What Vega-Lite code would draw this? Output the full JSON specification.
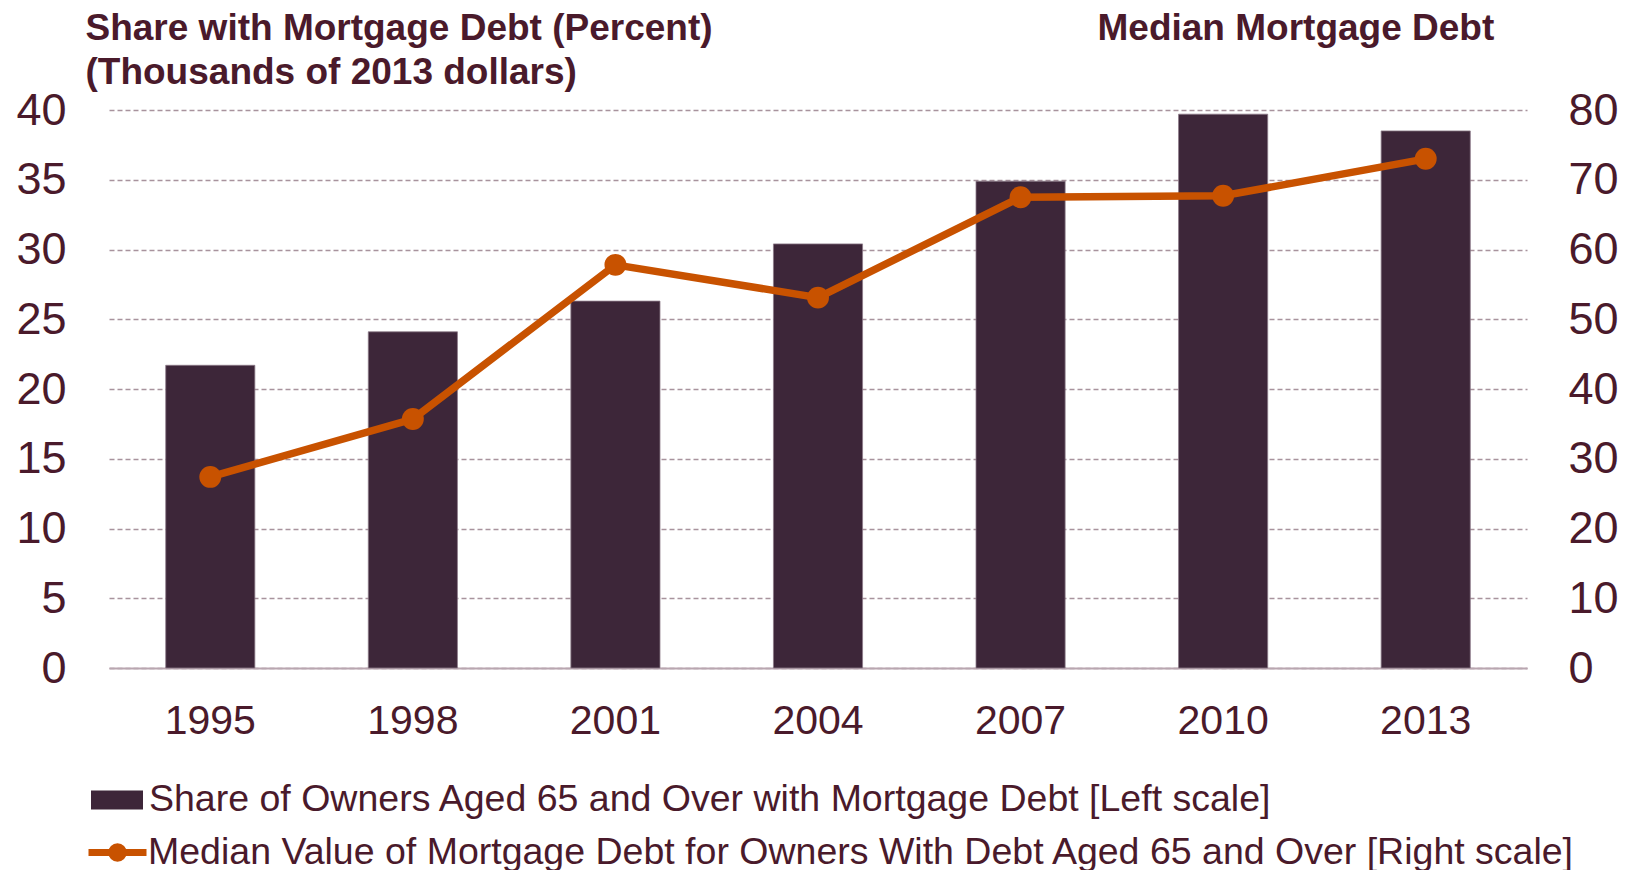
{
  "$schema": "https://vega.github.io/schema/vega-lite/v6.json",
  "width": 1418,
  "height": 558,
  "autosize": {"type": "none"},
  "padding": {"left": 109, "top": 110, "right": 99, "bottom": 202},
  "background": "white",
  "config": {
    "view": {"stroke": null},
    "font": "Liberation Sans",
    "axis": {"labelFont": "Liberation Sans", "titleFont": "Liberation Sans", "labelColor": "#4A1A2B", "titleColor": "#4A1A2B"},
    "legend": {"labelFont": "Liberation Sans", "labelLimit": 0}
  },
  "data": {
    "values": [
      {"year": "1995", "share": 21.7, "median": 27.4},
      {"year": "1998", "share": 24.1, "median": 35.7},
      {"year": "2001", "share": 26.3, "median": 57.8},
      {"year": "2004", "share": 30.4, "median": 53.1},
      {"year": "2007", "share": 34.9, "median": 67.5},
      {"year": "2010", "share": 39.7, "median": 67.7},
      {"year": "2013", "share": 38.5, "median": 73.0}
    ]
  },
  "encoding": {
    "x": {
      "field": "year",
      "type": "ordinal",
      "scale": {"paddingInner": 0.56, "paddingOuter": 0.28},
      "axis": {
        "title": null,
        "labelAngle": 0,
        "labelFontSize": 41,
        "labelPadding": 33,
        "ticks": false,
        "domainColor": "#B9A6B0",
        "domainWidth": 2,
        "grid": false
      }
    }
  },
  "layer": [
    {
      "mark": {"type": "bar", "stroke": "#8C7A88", "strokeWidth": 0.8},
      "encoding": {
        "y": {
          "field": "share",
          "type": "quantitative",
          "scale": {"domain": [0, 40], "nice": false},
          "axis": {
            "orient": "left",
            "values": [0, 5, 10, 15, 20, 25, 30, 35, 40],
            "labelFontSize": 45,
            "labelPadding": 43,
            "ticks": false,
            "domain": false,
            "grid": true,
            "gridColor": "#A8939D",
            "gridDash": [5, 3],
            "gridWidth": 1.5,
            "title": ["Share with Mortgage Debt (Percent)", "(Thousands of 2013 dollars)"],
            "titleAngle": 0,
            "titleAlign": "left",
            "titleBaseline": "alphabetic",
            "titleFontSize": 37,
            "titleFontWeight": "bold",
            "titleLineHeight": 44,
            "titleX": -24,
            "titleY": -71
          }
        },
        "color": {
          "datum": "Share of Owners Aged 65 and Over with Mortgage Debt [Left scale]",
          "type": "nominal",
          "scale": {"range": ["#3D2639"]},
          "legend": {
            "orient": "none",
            "legendX": -18,
            "legendY": 664,
            "title": null,
            "padding": 0,
            "labelFontSize": 37.5,
            "labelLimit": 0,
            "labelColor": "#4A1A2B",
            "labelOffset": 6,
            "symbolType": "M-1,-0.365L1,-0.365L1,0.365L-1,0.365Z",
            "symbolSize": 2704,
            "symbolStrokeWidth": 0
          }
        }
      }
    },
    {
      "mark": {"type": "line", "strokeWidth": 7.5, "point": {"filled": true, "size": 480}},
      "encoding": {
        "y": {
          "field": "median",
          "type": "quantitative",
          "scale": {"domain": [0, 80], "nice": false},
          "axis": {
            "orient": "right",
            "values": [0, 10, 20, 30, 40, 50, 60, 70, 80],
            "labelFontSize": 45,
            "labelPadding": 41,
            "ticks": false,
            "domain": false,
            "grid": false,
            "title": "Median Mortgage Debt",
            "titleAngle": 0,
            "titleAlign": "left",
            "titleBaseline": "alphabetic",
            "titleFontSize": 37,
            "titleFontWeight": "bold",
            "titleX": -430,
            "titleY": -71
          }
        },
        "color": {
          "datum": "Median Value of Mortgage Debt for Owners With Debt Aged 65 and Over [Right scale]",
          "type": "nominal",
          "scale": {"range": ["#C85200"]},
          "legend": {
            "orient": "none",
            "legendX": -24,
            "legendY": 710,
            "title": null,
            "padding": 0,
            "labelFontSize": 37.5,
            "labelLimit": 0,
            "labelColor": "#4A1A2B",
            "labelOffset": -2,
            "symbolType": "M-1,0L1,0M-0.2,0A0.2,0.2,0,1,1,0.2,0A0.2,0.2,0,1,1,-0.2,0",
            "symbolSize": 3364,
            "encode": {
              "symbols": {
                "update": {
                  "fill": {"value": "#C85200"},
                  "stroke": {"value": "#C85200"},
                  "strokeWidth": {"value": 7}
                }
              }
            }
          }
        }
      }
    }
  ],
  "resolve": {"scale": {"y": "independent", "color": "independent"}}
}
